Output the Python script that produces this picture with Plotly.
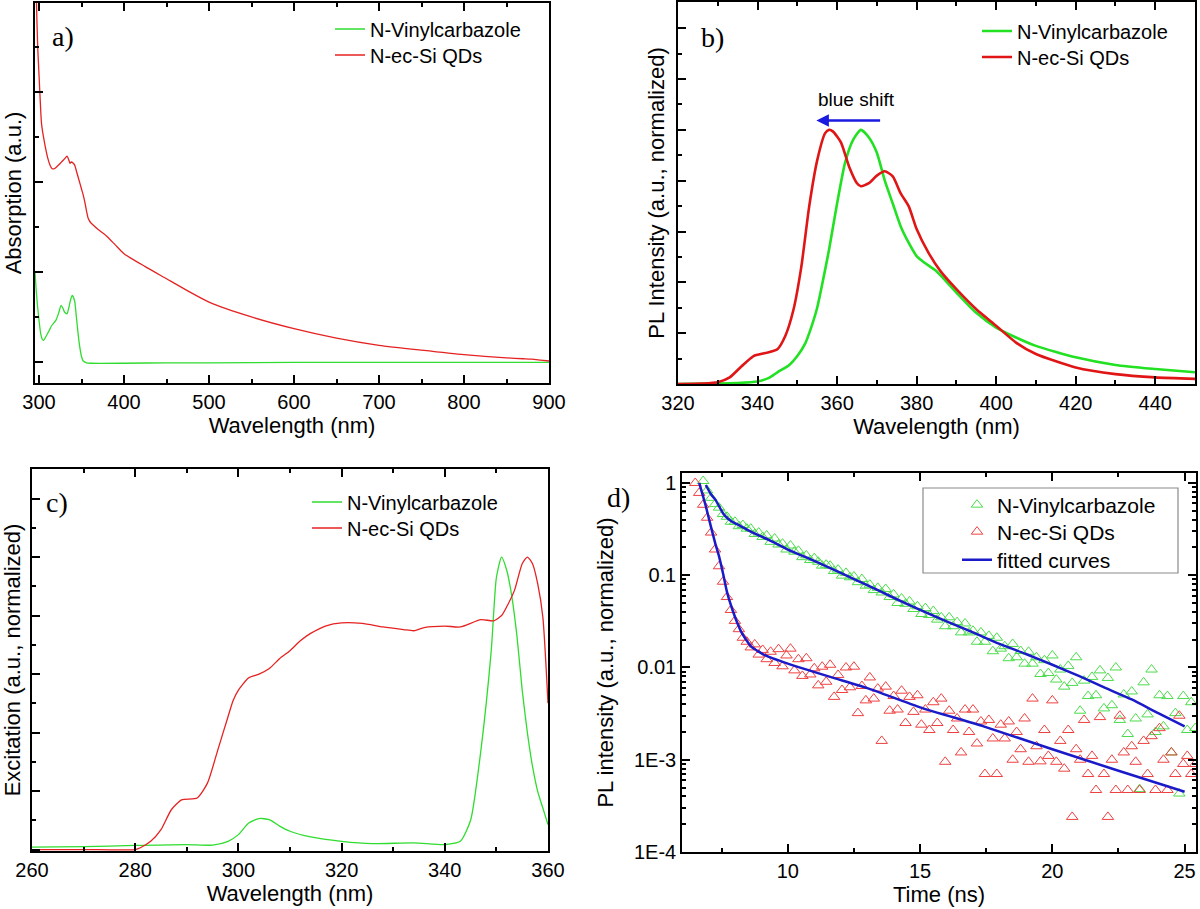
import plotly.graph_objects as go

W, H = 1200, 909

# ---------------- Panel a: absorption ----------------
abs_red_wl = [295.5, 297, 298.5, 300, 301.5, 303, 306, 310, 313, 315.5, 318, 320, 324, 327, 330, 333, 335,
              336.5, 338, 340, 342, 344, 347, 350, 352, 354, 356, 358, 360, 364, 370, 379, 390, 400, 425,
              450, 475, 500, 550, 600, 650, 700, 750, 800, 850, 870, 880, 890, 900]
abs_red = [9.5, 8.0, 7.0, 6.4, 5.8, 5.3, 4.93, 4.56, 4.38, 4.3, 4.3, 4.33, 4.4, 4.46, 4.52, 4.58, 4.5,
           4.42, 4.45, 4.43, 4.38, 4.25, 4.05, 3.85, 3.72, 3.55, 3.35, 3.19, 3.12, 3.04, 2.94, 2.81, 2.6, 2.41, 2.12,
           1.85, 1.58, 1.33, 1.0, 0.74, 0.53, 0.37, 0.26, 0.16, 0.09, 0.07, 0.06, 0.04, 0.02]
abs_green_wl = [295.3, 296.5, 298, 300, 302, 304, 305.5, 308, 312, 315, 318, 320, 323, 326, 328, 330, 333, 335,
                337, 339, 340, 342, 344, 346, 348, 350, 352, 356, 360, 400, 450, 500, 600, 700, 800, 900]
abs_green = [2.0, 1.65, 1.3, 0.93, 0.63, 0.5, 0.48, 0.56, 0.7, 0.81, 0.88, 0.93, 1.08, 1.26, 1.2, 1.11, 1.07, 1.2,
             1.37, 1.48, 1.46, 1.35, 1.0, 0.63, 0.33, 0.12, 0.02, -0.02, -0.03, -0.03, -0.02, -0.02, -0.01, -0.01,
             -0.01, -0.01]

# ---------------- Panel b: PL ----------------
pl_green_wl = [320, 330, 335, 340, 343, 345, 348, 350, 352, 353, 355, 357, 358, 360, 362, 364, 366, 368, 370, 372,
               374, 376, 378, 380, 382, 385, 390, 395, 400, 405, 410, 420, 430, 440, 450]
pl_green = [0, 0.002, 0.004, 0.01, 0.025, 0.046, 0.075, 0.11, 0.16, 0.2, 0.3, 0.45, 0.53, 0.71, 0.87, 0.96, 1.0,
            0.97, 0.91, 0.80, 0.71, 0.62, 0.556, 0.503, 0.477, 0.444, 0.36, 0.28, 0.222, 0.183, 0.150, 0.105,
            0.075, 0.059, 0.046]
pl_red_wl = [320, 326, 330, 333, 336, 339, 342, 345, 347, 349, 351, 353, 355, 357, 358, 359, 361, 363, 365, 366,
             368, 370, 372, 374, 376, 378, 380, 383, 386, 390, 395, 400, 405, 410, 420, 430, 440, 450]
pl_red = [0, 0.002, 0.007, 0.026, 0.07, 0.11, 0.122, 0.137, 0.19, 0.29, 0.46, 0.70, 0.88, 0.987, 1.0, 0.993, 0.95,
          0.856, 0.79, 0.778, 0.79, 0.82, 0.837, 0.817, 0.75, 0.70, 0.61, 0.516, 0.444, 0.373, 0.294, 0.229,
          0.163, 0.118, 0.065, 0.039, 0.026, 0.02]

# ---------------- Panel c: excitation ----------------
ex_green_wl = [260, 270, 280, 290, 295, 298, 300, 302, 304, 306, 308, 310, 314, 320, 326, 334, 340, 343, 345,
               347, 349, 350, 351, 352, 353, 354, 355, 356, 357, 358, 359, 360]
ex_green = [0.008, 0.01, 0.014, 0.017, 0.015, 0.028, 0.051, 0.091, 0.106, 0.102, 0.08, 0.0625, 0.043, 0.028,
            0.02, 0.023, 0.017, 0.028, 0.10, 0.34, 0.68, 0.93, 1.0, 0.955, 0.864, 0.727, 0.545, 0.40, 0.284,
            0.199, 0.142, 0.085]
ex_red_wl = [260, 270, 280, 281, 283, 285, 287, 289, 292, 294, 296, 298, 299, 300, 302, 304, 306, 308, 310, 312,
             314, 317, 320, 324, 328, 332, 334, 336, 340, 343, 347, 349.5, 351, 352, 353.5, 355, 356, 357, 358,
             359, 360]
ex_red = [0, 0, 0, 0.006, 0.028, 0.068, 0.136, 0.17, 0.176, 0.227, 0.34, 0.455, 0.51, 0.545, 0.5875, 0.60,
          0.619, 0.653, 0.68, 0.714, 0.739, 0.765, 0.775, 0.773, 0.761, 0.752, 0.748, 0.759, 0.764, 0.761,
          0.786, 0.782, 0.80, 0.83, 0.886, 0.977, 1.0, 0.977, 0.909, 0.795, 0.50]

# ---------------- Panel d: PL decay ----------------
decay_step = 0.15
green_t0, red_t0 = 6.8, 6.5
decay_green = [1.05, 0.83, 0.69, 0.59, 0.54, 0.46, 0.43, 0.38, 0.38, 0.34,
               0.35, 0.32, 0.32, 0.28, 0.29, 0.26, 0.27, 0.23, 0.25, 0.215,
               0.22, 0.19, 0.21, 0.18, 0.184, 0.157, 0.164, 0.146, 0.153, 0.140,
               0.127, 0.130, 0.127, 0.111, 0.115, 0.099, 0.106, 0.095, 0.097, 0.084,
               0.091, 0.077, 0.079, 0.069, 0.073, 0.065, 0.071, 0.058, 0.062, 0.050,
               0.056, 0.049, 0.052, 0.043, 0.046, 0.038, 0.044, 0.037, 0.041, 0.033,
               0.035, 0.028, 0.035, 0.028, 0.031, 0.024, 0.030, 0.024, 0.025, 0.019,
               0.024, 0.019, 0.022, 0.015, 0.021, 0.016, 0.017, 0.0126, 0.018, 0.0129,
               0.0151, 0.0110, 0.0148, 0.0110, 0.0129, 0.0085, 0.0120, 0.0087, 0.0135, 0.0074,
               0.0095, 0.0062, 0.0104, 0.0068, 0.0129, 0.0034, 0.0072, 0.0049, 0.0079, 0.0050,
               0.0093, 0.0036, 0.0077, 0.0039, 0.0100, 0.0027, 0.0051, 0.0019, 0.0055, 0.0028,
               0.00048, 0.0069, 0.0031, 0.0095, 0.0020, 0.0050, 0.0023, 0.0049, 0.0012, 0.0032,
               0.00043, 0.0049, 0.0021, 0.0042, 0.0022]
decay_red = [1.0, 0.78, 0.58, 0.42, 0.29, 0.19, 0.125, 0.085, 0.058, 0.042,
             0.032, 0.026, 0.021, 0.019, 0.0165, 0.0178, 0.0138, 0.0155, 0.0123, 0.0148,
             0.0112, 0.0158, 0.0103, 0.0135, 0.016, 0.0093, 0.0123, 0.0081, 0.0126, 0.0084,
             0.0098, 0.0064, 0.0102, 0.0070, 0.0107, 0.0048, 0.0083, 0.0057, 0.0100, 0.0061,
             0.0102, 0.0032, 0.0063, 0.0044, 0.0078, 0.0046, 0.0059, 0.0016, 0.0062, 0.0034,
             0.0049, 0.0035, 0.0056, 0.0025, 0.0048, 0.0033, 0.0050, 0.0024, 0.0035, 0.0021,
             0.0042, 0.0025, 0.0046, 0.00095, 0.0034, 0.0021, 0.0028, 0.0012, 0.0035, 0.0020,
             0.0035, 0.0015, 0.0026, 0.0007, 0.0027, 0.0017, 0.0007, 0.0024, 0.0017, 0.0026,
             0.0010, 0.0020, 0.0013, 0.0028, 0.00095, 0.0046, 0.0014, 0.00096, 0.0021, 0.0011,
             0.0044, 0.00095, 0.0016, 0.0008, 0.0021, 0.00024, 0.0013, 0.0010, 0.0027, 0.0007,
             0.0011, 0.00047, 0.0029, 0.0007, 0.00024, 0.0010, 0.00047, 0.0030, 0.0012, 0.00047,
             0.0014, 0.00095, 0.00047, 0.0016, 0.0007, 0.0018, 0.00047, 0.0022, 0.0010, 0.00047,
             0.0012, 0.0007, 0.0030, 0.0009, 0.0011, 0.0007, 0.0009]
decay_green_t = [round(green_t0 + decay_step * i, 3) for i in range(len(decay_green))]
decay_red_t = [round(red_t0 + decay_step * i, 3) for i in range(len(decay_red))]

fit_green_t = [6.9, 7.1, 7.26, 7.4, 7.55, 7.7, 7.9, 8.2, 8.7, 9.3, 10, 11, 12, 13, 14, 15, 16, 17, 18, 19, 20,
               21, 22, 23, 24, 25]
fit_green = [0.95, 0.75, 0.66, 0.56, 0.47, 0.42, 0.38, 0.343, 0.288, 0.24, 0.19, 0.143, 0.106, 0.078, 0.057,
             0.042, 0.0316, 0.024, 0.018, 0.014, 0.0107, 0.0081, 0.006, 0.0045, 0.0032, 0.0023]
fit_red_t = [6.65, 6.9, 7.1, 7.26, 7.4, 7.55, 7.7, 7.91, 8.1, 8.27, 8.45, 8.64, 9.15, 10, 11.6, 13.06, 15, 17.4,
             20, 22.5, 25]
fit_red = [1.0, 0.56, 0.33, 0.22, 0.16, 0.105, 0.066, 0.042, 0.030, 0.0234, 0.0195, 0.0166, 0.0135, 0.011,
           0.0079, 0.0059, 0.0037, 0.0023, 0.0013, 0.00076, 0.00045]

log_tickvals = [1e-4, 1e-3, 0.01, 0.1, 1]
log_ticktext = ["1E-4", "1E-3", "0.01", "0.1", "1"]

# ---------------- styling ----------------
GREEN = "#2fdc2f"
RED = "#e52222"
BLUE = "#1a1ac8"
SANS = "Liberation Sans"
SERIF = "Liberation Serif"


def xd(a, b):
    return [a / W, b / W]


def yd(top, bottom):
    return [1 - bottom / H, 1 - top / H]


fig = go.Figure()

# panel a
fig.add_trace(go.Scatter(x=abs_green_wl, y=abs_green, mode="lines", name="N-Vinylcarbazole",
                         line=dict(color=GREEN, width=1.3, shape="spline", smoothing=0.6),
                         xaxis="x", yaxis="y", legend="legend"))
fig.add_trace(go.Scatter(x=abs_red_wl, y=abs_red, mode="lines", name="N-ec-Si QDs",
                         line=dict(color=RED, width=1.3, shape="spline", smoothing=0.6),
                         xaxis="x", yaxis="y", legend="legend5"))
# panel b
fig.add_trace(go.Scatter(x=pl_green_wl, y=pl_green, mode="lines", name="N-Vinylcarbazole",
                         line=dict(color="#22e022", width=2.6, shape="spline", smoothing=0.6),
                         xaxis="x2", yaxis="y2", legend="legend2"))
fig.add_trace(go.Scatter(x=pl_red_wl, y=pl_red, mode="lines", name="N-ec-Si QDs",
                         line=dict(color="#e01515", width=2.6, shape="spline", smoothing=0.6),
                         xaxis="x2", yaxis="y2", legend="legend6"))
# panel c
fig.add_trace(go.Scatter(x=ex_green_wl, y=ex_green, mode="lines", name="N-Vinylcarbazole",
                         line=dict(color=GREEN, width=1.3, shape="spline", smoothing=0.6),
                         xaxis="x3", yaxis="y3", legend="legend3"))
fig.add_trace(go.Scatter(x=ex_red_wl, y=ex_red, mode="lines", name="N-ec-Si QDs",
                         line=dict(color=RED, width=1.3, shape="spline", smoothing=0.6),
                         xaxis="x3", yaxis="y3", legend="legend7"))
# panel d
fig.add_trace(go.Scatter(x=decay_green_t, y=decay_green, mode="markers", name="N-Vinylcarbazole",
                         marker=dict(symbol="triangle-up-open", size=10, color="#4cdc4c", line=dict(width=1)),
                         xaxis="x4", yaxis="y4", legend="legend4"))
fig.add_trace(go.Scatter(x=decay_red_t, y=decay_red, mode="markers", name="N-ec-Si QDs",
                         marker=dict(symbol="triangle-up-open", size=10, color="#ee4040", line=dict(width=1)),
                         xaxis="x4", yaxis="y4", legend="legend8"))
fig.add_trace(go.Scatter(x=fit_green_t, y=fit_green, mode="lines", name="fitted curves",
                         line=dict(color=BLUE, width=2.5, shape="spline", smoothing=0.5),
                         xaxis="x4", yaxis="y4", legend="legend9"))
fig.add_trace(go.Scatter(x=fit_red_t, y=fit_red, mode="lines", name="fitted curves", showlegend=False,
                         line=dict(color=BLUE, width=2.5, shape="spline", smoothing=0.5),
                         xaxis="x4", yaxis="y4", legend="legend9"))


def xaxis(dom, anchor, rng, dtick, mdtick, title, tick0=0, **kw):
    d = dict(domain=dom, anchor=anchor, range=rng, showline=True, linecolor="black", linewidth=1.5,
             mirror="ticks", ticks="inside", ticklen=8, tickwidth=1.5, tickcolor="black",
             dtick=dtick, tick0=tick0, showgrid=False, zeroline=False, automargin=False,
             tickfont=dict(family=SANS, size=20, color="black"),
             minor=dict(ticks="inside", ticklen=4, tickwidth=1.5, tickcolor="black", dtick=mdtick,
                        showgrid=False),
             title=dict(text=title, font=dict(family=SANS, size=22, color="black"), standoff=6))
    d.update(kw)
    return d


def yaxis(dom, anchor, rng, dtick, mdtick, title, standoff, **kw):
    d = dict(domain=dom, anchor=anchor, range=rng, showline=True, linecolor="black", linewidth=1.5,
             mirror=True, ticks="inside", ticklen=8, tickwidth=1.5, tickcolor="black",
             dtick=dtick, tick0=0, showgrid=False, zeroline=False, showticklabels=False, automargin=False,
             minor=dict(ticks="inside", ticklen=4, tickwidth=1.5, tickcolor="black", dtick=mdtick,
                        showgrid=False),
             title=dict(text=title, font=dict(family=SANS, size=22, color="black"), standoff=standoff))
    d.update(kw)
    return d


def leg(text_x, row_y, size=20):
    return dict(x=(text_x - 41) / W, y=1 - row_y / H, xanchor="left", yanchor="middle",
                bgcolor="rgba(0,0,0,0)", borderwidth=0,
                font=dict(family=SANS, size=size, color="black"))


layout = dict(
    width=W, height=H, margin=dict(l=0, r=0, t=0, b=0, autoexpand=False),
    paper_bgcolor="white", plot_bgcolor="white",
    font=dict(family=SANS, color="black"),
    xaxis=xaxis(xd(35, 549), "y", [295.3, 900], 100, 50, "Wavelength (nm)"),
    yaxis=yaxis(yd(3, 383), "x", [-0.47, 7.99], 2, 1, "Absorption (a.u.)", 6),
    xaxis2=xaxis(xd(678, 1195), "y2", [320, 450], 20, 10, "Wavelength (nm)"),
    yaxis2=yaxis(yd(2, 384), "x2", [0, 1.503], 0.2, 0.1, "PL Intensity (a.u., normalized)", 6),
    xaxis3=xaxis(xd(32, 548), "y3", [260, 360], 20, 10, "Wavelength (nm)"),
    yaxis3=yaxis(yd(469, 851), "x3", [-0.005, 1.301], 0.2, 0.1, "Excitation (a.u., normalized)", 6),
    xaxis4=xaxis(xd(682, 1196), "y4", [6.0, 25.43], 5, 2.5, "Time (ns)"),
    yaxis4=dict(domain=yd(473, 852), anchor="x4", type="log", range=[-4, 0.108], showline=True,
                linecolor="black", linewidth=1.5, mirror="ticks", ticks="inside", ticklen=8, tickwidth=1.5,
                tickcolor="black", tickvals=log_tickvals, ticktext=log_ticktext, showgrid=False,
                automargin=False, tickfont=dict(family=SANS, size=20, color="black"),
                minor=dict(ticks="inside", ticklen=4, tickwidth=1.5, tickcolor="black", dtick="D1",
                           showgrid=False),
                title=dict(text="PL intensity (a.u., normalized)", font=dict(family=SANS, size=22, color="black"),
                           standoff=14)),
    legend=leg(371, 29), legend5=leg(371, 55),
    legend2=leg(1018, 31), legend6=leg(1018, 57),
    legend3=leg(348, 502), legend7=leg(348, 528),
    legend4=leg(998, 505, 21), legend8=leg(998, 532, 21), legend9=leg(998, 560, 21),
    showlegend=True,
)
fig.update_layout(**layout)

# legend frame of panel d
fig.add_shape(type="rect", xref="paper", yref="paper", x0=923 / W, x1=1178 / W, y0=1 - 573 / H, y1=1 - 488 / H,
              line=dict(color="#8a8a8a", width=1.2), fillcolor="white", layer="below")

# panel labels
for txt, px, py in [("a)", 63, 36), ("b)", 712, 37), ("c)", 57, 503), ("d)", 618, 498)]:
    fig.add_annotation(text=txt, x=px / W, y=1 - py / H, xref="paper", yref="paper", showarrow=False,
                       xanchor="center", yanchor="middle", font=dict(family=SERIF, size=28, color="black"))

# blue shift annotation
fig.add_annotation(text="blue shift", x=364.8, y=1.118, xref="x2", yref="y2", showarrow=False,
                   font=dict(family=SANS, size=19, color="black"))
fig.add_annotation(text="", x=354.8, y=1.037, ax=371.2, ay=1.037, xref="x2", yref="y2", axref="x2", ayref="y2",
                   showarrow=True, arrowhead=2, arrowsize=1, arrowwidth=2.5, arrowcolor="#1a1ae0")

fig.write_html("out.html", config={"displayModeBar": False},
               post_script="document.body.style.margin='0px';")
